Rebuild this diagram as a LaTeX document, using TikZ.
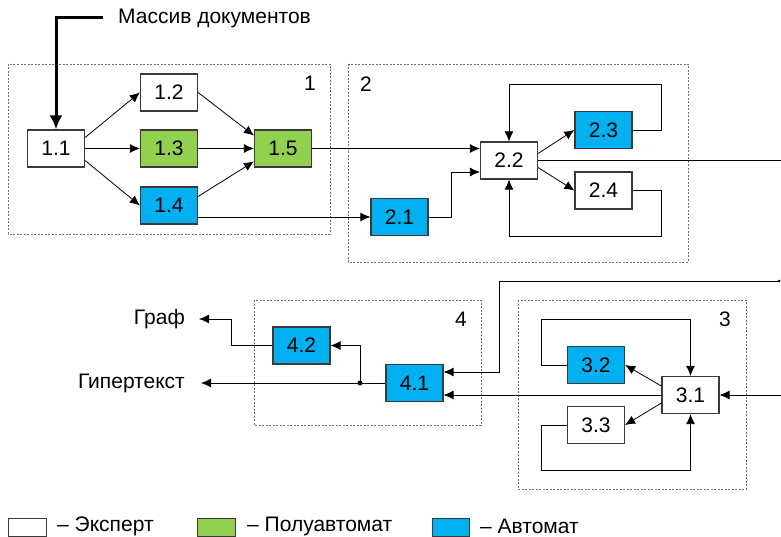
\documentclass[tikz,border=0pt]{standalone}
\usepackage{fontspec}
\setmainfont{Liberation Sans}
\usetikzlibrary{arrows.meta,calc}
\definecolor{grn}{HTML}{92D050}
\definecolor{blu}{HTML}{00B0F0}
\definecolor{edgec}{HTML}{3A3A3A}
\definecolor{framec}{HTML}{707070}
\begin{document}
\begin{tikzpicture}[x=1pt,y=-1pt,
  box/.style={draw=edgec, line width=1.2pt, minimum width=57pt, minimum height=37pt, inner sep=0pt, font=\fontsize{21}{21}\selectfont},
  wbox/.style={box, fill=white},
  gbox/.style={box, fill=grn},
  bbox/.style={box, fill=blu},
  arr/.style={draw=black, line width=0.8pt, -{Latex[length=10pt,width=9pt]}},
  plain/.style={draw=black, line width=0.8pt},
  frame/.style={draw=framec, line width=0.7pt, dash pattern=on 2pt off 1.5pt},
  lbl/.style={font=\fontsize{21}{21}\selectfont, inner sep=0pt},
  legbox/.style={draw=edgec, line width=1pt, minimum height=18pt, inner sep=0pt}
]
\useasboundingbox (0,0) rectangle (781,537);
\coordinate (R) at (781,0);

% frames
\draw[frame] (8,64) rectangle (330,234);
\draw[frame] (348,64) rectangle (688,262);
\draw[frame] (254,300) rectangle (481,425);
\draw[frame] (518,300) rectangle (746,489);
\node[lbl] (f1) at (310,83) {1};
\node[lbl] (f2) at (366,84) {2};
\node[lbl] (f4) at (461,319) {4};
\node[lbl] (f3) at (725,319) {3};

% group 1
\node[wbox] (n11) at (56,148.5) {1.1};
\node[wbox] (n12) at (169,92.5) {1.2};
\node[gbox] (n13) at (169,148.5) {1.3};
\node[bbox] (n14) at (169,205.5) {1.4};
\node[gbox] (n15) at (283,148.5) {1.5};

% group 2
\node[bbox] (n21) at (399.5,217) {2.1};
\node[wbox] (n22) at (509,160.5) {2.2};
\node[bbox] (n23) at (603.5,130) {2.3};
\node[wbox] (n24) at (603.5,190.5) {2.4};

% group 3
\node[wbox] (n31) at (690.5,395) {3.1};
\node[bbox] (n32) at (596,365) {3.2};
\node[wbox] (n33) at (596,425) {3.3};

% group 4
\node[bbox] (n41) at (414.5,383) {4.1};
\node[bbox] (n42) at (301.5,345.5) {4.2};

% title
\node[lbl, anchor=west] (ttl) at (118,18) {Массив документов};
\draw[line width=3pt, -{Latex[length=14pt,width=13pt]}] ([xshift=-15pt]ttl.west) -| (n11.north);

% group 1 edges
\draw[arr] ([yshift=11pt]n11.east) -- (n12.west);
\draw[arr] (n11.east) -- (n13.west);
\draw[arr] ([yshift=-12pt]n11.east) -- (n14.west);
\draw[arr] (n12.east) -- ([yshift=13pt]n15.west);
\draw[arr] (n13.east) -- (n15.west);
\draw[arr] ([yshift=9pt]n14.east) -- ([yshift=-13pt]n15.west);

% to group 2
\draw[arr] (n15.east) -- (n15.east -| n22.west);
\draw[arr] (n21.west -| n14.east) -- (n21.west);
\draw[arr] (n21.east) -- (451,217) |- ([yshift=-11.5pt]n22.west);
\draw[arr] ([yshift=7pt]n22.east) -- (n23.west);
\draw[arr] ([yshift=-7pt]n22.east) -- (n24.west);
\draw[arr] (n23.east) -| (661,84) -| (n22.north);
\draw[arr] (n24.east) -| (661,236) -| (n22.south);
\draw[plain] (n22.east) -- (n22.east -| R);

% group 3
\draw[arr] (n32.west) -| (541,319) -| (n31.north);
\draw[arr] (n33.west) -| (541,470) -| (n31.south);
\draw[arr] ([yshift=9pt]n31.west) -- (n32.east);
\draw[arr] ([yshift=-8pt]n31.west) -- (n33.east);
\draw[arr] (R |- n31) -- (n31.east);
\draw[arr] (n31.west) -- (n31.west -| n41.east);

% from top right into 4.1
\coordinate (E1) at (779,281);
\draw[arr] (E1) -- (499,281) |- ([yshift=11pt]n41.east);
\fill (E1) circle (1.5pt);

% group 4
\coordinate (J) at (360,383);
\node[lbl, anchor=east] (hyp) at (185,383) {Гипертекст};
\node[lbl, anchor=east] (graf) at (185,319) {Граф};
\draw[plain] (n41.west) -- (J);
\draw[arr] (J) |- (n42.east);
\draw[arr] (J) -- ([xshift=16pt]hyp.east);
\draw[arr] (n42.west) -- (231,345.5) |- ([xshift=14pt]graf.east);
\fill (J) circle (2.5pt);

% legend
\node[legbox, fill=white, minimum width=38pt] (lg1) at (27,527) {};
\node[lbl, anchor=west] (lt1) at (57,526) {– Эксперт};
\node[legbox, fill=grn, minimum width=38pt] (lg2) at (216,527) {};
\node[lbl, anchor=west] (lt2) at (247,526) {– Полуавтомат};
\node[legbox, fill=blu, minimum width=37pt] (lg3) at (450.5,527) {};
\node[lbl, anchor=west] (lt3) at (480,526) {– Автомат};
\end{tikzpicture}
\end{document}
